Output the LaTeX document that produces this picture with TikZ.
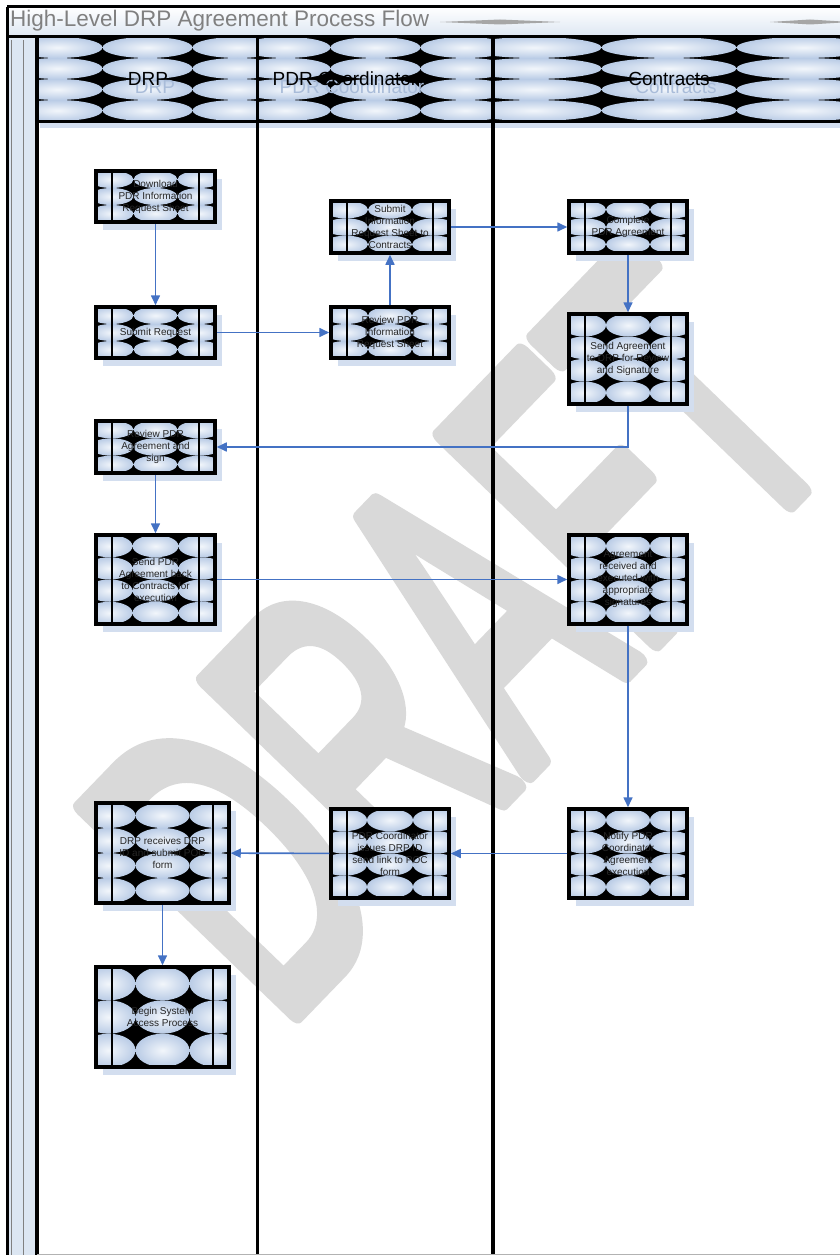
\documentclass[tikz,border=0pt]{standalone}
\usepackage{fontspec}
\setmainfont{Liberation Sans}
\usetikzlibrary{arrows.meta}
\definecolor{ellc}{HTML}{BACCE6}
\definecolor{ellh}{HTML}{F2F6FB}
\definecolor{shad}{HTML}{D3DEEF}
\definecolor{arr}{HTML}{4472C4}
\definecolor{wm}{HTML}{D9D9D9}
\definecolor{strip}{HTML}{DCE6F2}
\definecolor{ghost}{HTML}{A9BCD9}
\definecolor{ttl}{HTML}{808080}
\definecolor{btxt}{HTML}{262626}

\newcommand\ellgrid[6]{%
 \begin{scope}
 \clip (#1,#2) rectangle (#3,#4);
 \fill[black] (#1,#2) rectangle (#3,#4);
 \pgfmathsetmacro\egrh{(#4-#2)/#6}
 \pgfmathsetmacro\egry{\egrh/2}
 \pgfmathsetmacro\egrx{#5/2}
 \pgfmathsetmacro\egcx{(#1+#3)/2}
 \pgfmathtruncatemacro\egnc{ceil((#3-#1)/(2*#5))+1}
 \foreach \r in {1,...,#6}{
   \foreach \c in {-\egnc,...,\egnc}{
     \pgfmathsetmacro\ex{\egcx+\c*#5}
     \pgfmathsetmacro\ey{#2+(\r-0.5)*\egrh}
     \shade[inner color=ellh, outer color=ellc] (\ex,\ey) ellipse [x radius=\egrx pt, y radius=\egry pt];
   }}
 \end{scope}}

\newcommand\pbox[8]{%
  \fill[shad] (#2+7,#3+8) rectangle (#4+7,#5+8);
  \ellgrid{#2}{#3}{#4}{#5}{#7}{#6}
  \draw[line width=3.5pt] (#2,#3) rectangle (#4,#5);
  \draw[line width=2.8pt] (#2+16,#3) -- (#2+16,#5) (#4-16,#3) -- (#4-16,#5);
  \pgfmathsetmacro\pbw{#4-#2}
  \pgfmathsetmacro\pbh{#5-#3}
  \node[boxtext, minimum width=\pbw pt, minimum height=\pbh pt] (#1) at ({(#2+#4)/2},{(#3+#5)/2}) {#8};
}

\begin{document}
\begin{tikzpicture}[x=1pt,y=-1pt,
  boxtext/.style={inner sep=0pt, outer sep=1.75pt, align=center, text=btxt,
    font=\fontsize{10}{12}\selectfont},
  hdr/.style={font=\fontsize{19}{22}\selectfont, text=black},
  hdrg/.style={font=\fontsize{19}{22}\selectfont, text=ghost},
  flow/.style={draw=arr, line width=1.6pt, -{Triangle[length=10pt,width=9pt]}}]
\useasboundingbox (0,0) rectangle (840,1255);
\fill[white] (0,0) rectangle (840,1255);

% watermark
\node[rotate=46, xscale=0.57, anchor=base west, inner sep=0pt, text=wm,
  font=\fontsize{430}{430}\selectfont] (wmark) at (280,1030)
  {\special{pdf:literal direct 2 Tr 20 w 1 j}DRAFT\special{pdf:literal direct 0 Tr}};

% title bar
\shade[top color=white, bottom color=strip] (7,7) rectangle (840,37);
\fill[gray!70] (440,22) -- (500,19.5) -- (560,22) -- (500,24.5) -- cycle;
\fill[gray!70] (770,22) -- (810,19.5) -- (850,22) -- (810,24.5) -- cycle;
\node[anchor=west, inner sep=0pt, text=ttl, font=\fontsize{22.5}{24}\selectfont] (title) at (10,21) {High-Level DRP Agreement Process Flow};

% left strip
\fill[strip] (7,37) rectangle (37,1255);
\draw[gray, line width=0.8pt] (11,40) -- (11,1255) (23,40) -- (23,1255);

% header
\fill[shad] (40,121) rectangle (840,128);
\ellgrid{37}{37}{258}{121}{90}{4}
\ellgrid{258}{37}{493}{121}{90}{4}
\ellgrid{493}{37}{845}{121}{135}{4}
\node[hdrg] (g1) at (155,87) {DRP};
\node[hdrg] (g2) at (352,87) {PDR Coordinator};
\node[hdrg] (g3) at (676,87) {Contracts};
\node[hdr] (h1) at (148,79) {DRP};
\node[hdr] (h2) at (345,79) {PDR Coordinator};
\node[hdr] (h3) at (669,79) {Contracts};

% frame and lanes
\draw[line width=3pt] (7,7) -- (845,7);
\draw[line width=3pt] (7,7) -- (7,1260);
\draw[line width=3pt] (7,37) -- (845,37);
\draw[line width=3.5pt] (37,37) -- (37,1260);
\draw[line width=3pt] (37,121) -- (845,121);
\draw[line width=3.5pt] (257.5,37) -- (257.5,1260);
\draw[line width=3.5pt] (493,37) -- (493,1260);
\draw[gray!60, line width=1pt] (37,1254.5) -- (845,1254.5);

% boxes
\pbox{b1}{96}{171}{215}{222}{3}{44}{Download\\PDR Information\\Request Sheet}
\pbox{b2}{96}{307}{215}{358}{3}{44}{Submit Request}
\pbox{b3}{331}{307}{449}{358}{3}{44}{Review PDR\\Information\\Request Sheet}
\pbox{b4}{331}{201}{449}{253}{3}{44}{Submit\\Information\\Request Sheet to\\Contracts}
\pbox{b5}{569}{201}{687}{253}{3}{44}{Complete\\PDR Agreement}
\pbox{b6}{569}{314}{687}{404}{4}{44}{Send Agreement\\to DRP for Review\\and Signature}
\pbox{b7}{96}{421}{215}{473}{3}{44}{Review PDR\\Agreement and\\sign}
\pbox{b8}{96}{535}{215}{624}{4}{46}{Send PDR\\Agreement back\\to Contracts for\\execution}
\pbox{b9}{569}{535}{687}{624}{4}{44}{Agreement\\received  and\\executed with\\appropriate\\signatures}
\pbox{b10}{569}{809}{687}{898}{4}{44}{Notify PDR\\Coordinator\\Agreement\\execution}
\pbox{b11}{331}{809}{449}{898}{4}{46}{PDR Coordinator\\issues DRP ID\\send link to POC\\form}
\pbox{b12}{96}{803}{229}{903}{4}{54}{DRP receives DRP\\ID and submit POC\\form}
\pbox{b13}{96}{967}{229}{1067}{3}{54}{Begin System\\Access Process}

% connectors
\draw[flow] (b1) -- (b2);
\draw[flow] (b2) -- (b3);
\draw[flow] (b3) -- (b4);
\draw[flow] (b4) -- (b5);
\draw[flow] (b5) -- (b6);
\draw[flow] (b6.south) |- (b7.east);
\draw[flow] (b7) -- (b8);
\draw[flow] (b8) -- (b9);
\draw[flow] (b9) -- (b10);
\draw[flow] (b10) -- (b11);
\draw[flow] (b11) -- (b12);
\draw[flow] (b12) -- (b13);
\end{tikzpicture}
\end{document}
